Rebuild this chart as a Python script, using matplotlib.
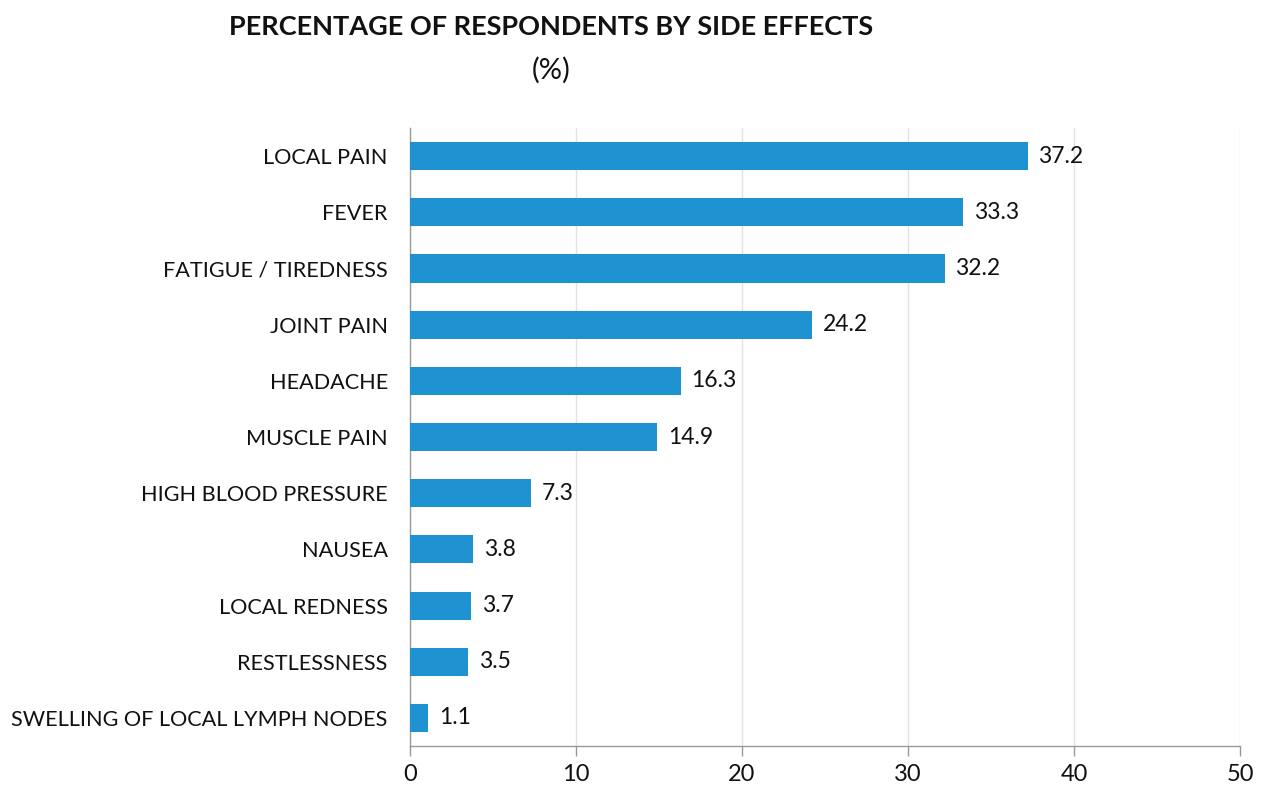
import matplotlib
matplotlib.use("Agg")
import matplotlib.pyplot as plt

categories = [
    "LOCAL PAIN", "FEVER", "FATIGUE / TIREDNESS", "JOINT PAIN", "HEADACHE",
    "MUSCLE PAIN", "HIGH BLOOD PRESSURE", "NAUSEA", "LOCAL REDNESS",
    "RESTLESSNESS", "SWELLING OF LOCAL LYMPH NODES",
]
values = [37.2, 33.3, 32.2, 24.2, 16.3, 14.9, 7.3, 3.8, 3.7, 3.5, 1.1]
x_ticks = [0, 10, 20, 30, 40, 50]

plt.rcParams["font.family"] = ["Lato", "DejaVu Sans"]

fig = plt.figure(figsize=(12.72, 7.85), dpi=100)
ax = fig.add_axes([410 / 1272, 39 / 785, 830 / 1272, 618 / 785])

pos = list(range(len(categories)))
ax.barh(pos, values, height=0.5, color="#1f93d2", zorder=3)
for p, v in zip(pos, values):
    ax.text(v + 0.65, p, f"{v:.1f}", va="center", ha="left",
            fontsize=16.5, color="#111111", zorder=4)

ax.set_ylim(len(categories) - 0.5, -0.5)
ax.set_xlim(0, 50)
ax.set_yticks(pos)
ax.set_yticklabels(categories, fontsize=15.6, color="#111111")
ax.set_xticks(x_ticks)
ax.set_xticklabels([str(t) for t in x_ticks], fontsize=17, color="#111111")

ax.tick_params(axis="y", length=0, pad=16)
ax.tick_params(axis="x", length=7, color="#999999", width=1, pad=6)
ax.grid(axis="x", color="#e3e3e3", linewidth=1, zorder=0)

for side in ["top", "right"]:
    ax.spines[side].set_visible(False)
for side in ["left", "bottom"]:
    ax.spines[side].set_color("#999999")
    ax.spines[side].set_linewidth(1)

fig.text(551 / 1272, 1 - 27 / 785, "PERCENTAGE OF RESPONDENTS BY SIDE EFFECTS",
         ha="center", va="center", fontsize=19.5, fontweight="bold", color="#111111")
fig.text(551 / 1272, 1 - 70 / 785, "(%)", ha="center", va="center",
         fontsize=21, color="#111111")

fig.savefig("out.png", dpi=100)
